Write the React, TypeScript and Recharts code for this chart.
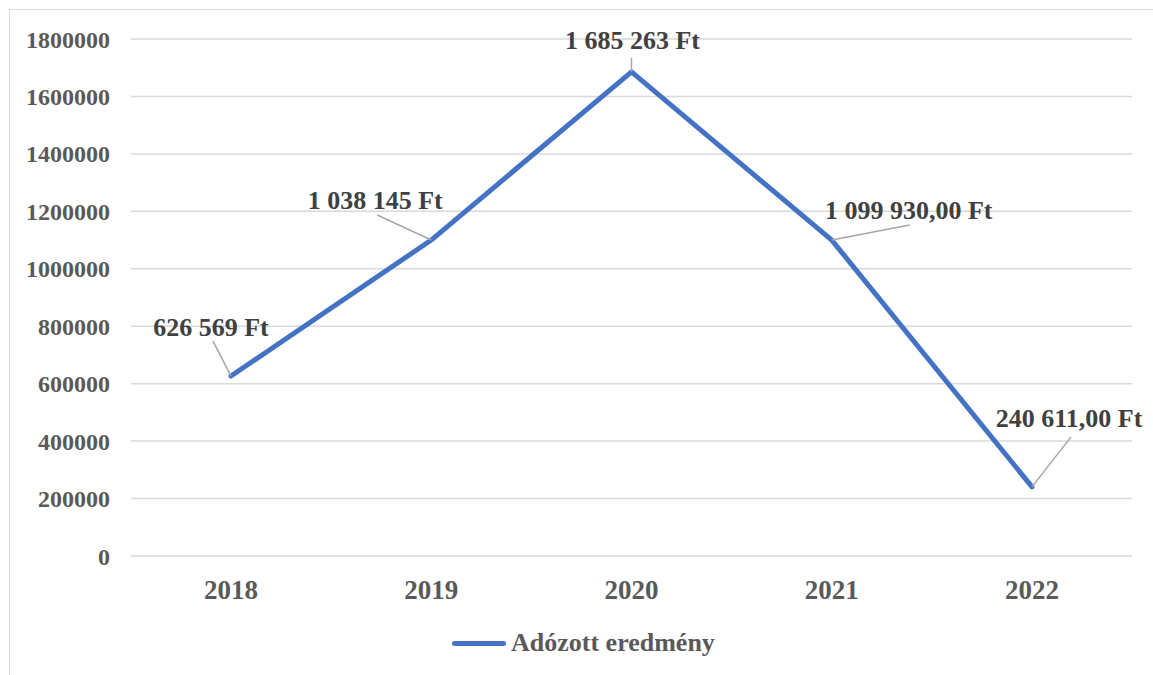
import React from "react";
import { LineChart, Line, XAxis, YAxis, CartesianGrid, Legend } from "recharts";

const years = ["2018", "2019", "2020", "2021", "2022"];
const values = [626569, 1100000, 1685263, 1099930, 240611];
const valueLabels = ["626 569 Ft", "1 038 145 Ft", "1 685 263 Ft", "1 099 930,00 Ft", "240 611,00 Ft"];
const yTicks = [0, 200000, 400000, 600000, 800000, 1000000, 1200000, 1400000, 1600000, 1800000];
const seriesName = "Adózott eredmény";

// label layout (offsets from the data point, in px)
const labelLayout = [
  { tx: -20, ty: -49, lx: -18, ly: -35 },
  { tx: -56, ty: -40, lx: -54, ly: -25 },
  { tx: 1, ty: -31, lx: 0, ly: -14 },
  { tx: 77, ty: -30, lx: 78, ly: -15 },
  { tx: 37, ty: -68, lx: 39, ly: -50 },
];

const data = years.map((y, i) => ({ year: y, value: values[i] }));

const FONT = '"Liberation Serif", "Times New Roman", serif';
const BLUE = "#4472C4";

const renderPoint = (props: any) => {
  const { cx, cy, index } = props;
  if (cx == null || cy == null) return <g key={`p${index}`} />;
  const o = labelLayout[index];
  return (
    <g key={`p${index}`}>
      <line x1={cx + o.lx} y1={cy + o.ly} x2={cx} y2={cy} stroke="#a6a6a6" strokeWidth={1.5} />
      <text
        x={cx + o.tx}
        y={cy + o.ty}
        textAnchor="middle"
        dominantBaseline="central"
        fontFamily={FONT}
        fontWeight="bold"
        fontSize={26}
        fill="#404040"
      >
        {valueLabels[index]}
      </text>
    </g>
  );
};

const renderLegend = () => (
  <div style={{ height: 40, width: 1153, position: "relative" }}>
    <div
      style={{
        position: "absolute",
        left: 452,
        top: -5,
        height: 26,
        display: "flex",
        alignItems: "center",
      }}
    >
      <div style={{ width: 54, height: 5, borderRadius: 3, background: BLUE }} />
      <span
        style={{
          marginLeft: 5,
          fontFamily: FONT,
          fontWeight: "bold",
          fontSize: 26,
          lineHeight: "26px",
          color: "#595959",
          whiteSpace: "nowrap",
        }}
      >
        {seriesName}
      </span>
    </div>
  </div>
);

export default function App() {
  return (
    <div style={{ position: "absolute", left: 0, top: 0, width: 1153, height: 675, background: "#fff" }}>
      <div
        style={{
          position: "absolute",
          left: 9,
          top: 9,
          width: 1200,
          height: 700,
          borderTop: "1.5px solid #d9d9d9",
          borderLeft: "1.5px solid #d9d9d9",
        }}
      />
      <LineChart
        width={1153}
        height={675}
        data={data}
        margin={{ top: 39, right: 21, bottom: 0, left: 0 }}
      >
        <CartesianGrid vertical={false} stroke="#d9d9d9" strokeWidth={1.5} />
        <XAxis
          dataKey="year"
          axisLine={false}
          tickLine={false}
          tickSize={0}
          tickMargin={24}
          height={79}
          padding={{ left: 100, right: 100 }}
          tick={{ fontFamily: FONT, fontWeight: "bold", fontSize: 27, fill: "#595959" }}
          interval={0}
        />
        <YAxis
          domain={[0, 1800000]}
          ticks={yTicks}
          axisLine={false}
          tickLine={false}
          tickSize={0}
          tickMargin={21}
          width={131}
          interval={0}
          tick={{ fontFamily: FONT, fontWeight: "bold", fontSize: 24, fill: "#595959" }}
        />
        <Legend verticalAlign="bottom" content={renderLegend} />
        <Line
          type="linear"
          dataKey="value"
          name={seriesName}
          stroke={BLUE}
          strokeWidth={5}
          strokeLinecap="round"
          strokeLinejoin="round"
          dot={renderPoint}
          activeDot={false}
          isAnimationActive={false}
        />
      </LineChart>
    </div>
  );
}
